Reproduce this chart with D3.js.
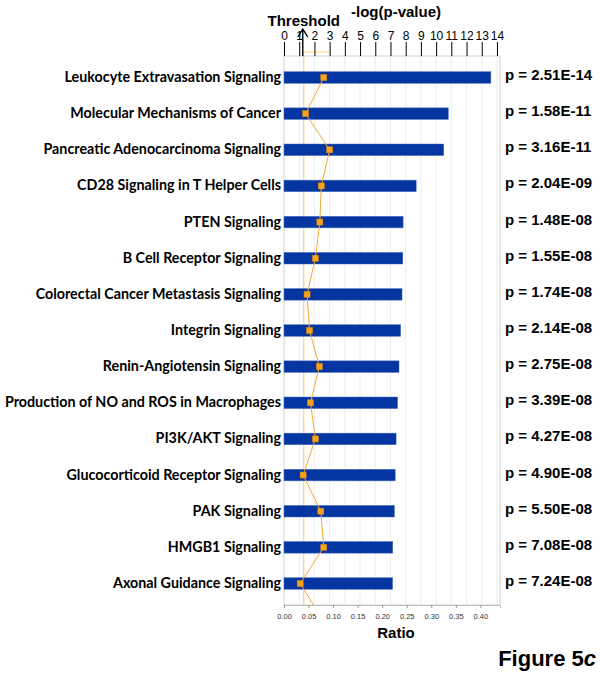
<!DOCTYPE html>
<html>
<head>
<meta charset="utf-8">
<script src="https://cdn.jsdelivr.net/npm/d3@7"></script>
<style>
  html, body { margin: 0; padding: 0; background: #fff; }
  svg { display: block; }
</style>
</head>
<body>
<svg id="chart" width="601" height="675"></svg>
<script>
const categories = [
  "Leukocyte Extravasation Signaling",
  "Molecular Mechanisms of Cancer",
  "Pancreatic Adenocarcinoma Signaling",
  "CD28 Signaling in T Helper Cells",
  "PTEN Signaling",
  "B Cell Receptor Signaling",
  "Colorectal Cancer Metastasis Signaling",
  "Integrin Signaling",
  "Renin-Angiotensin Signaling",
  "Production of NO and ROS in Macrophages",
  "PI3K/AKT Signaling",
  "Glucocorticoid Receptor Signaling",
  "PAK Signaling",
  "HMGB1 Signaling",
  "Axonal Guidance Signaling"
];
const pValueLabels = [
  "2.51E-14", "1.58E-11", "3.16E-11", "2.04E-09", "1.48E-08",
  "1.55E-08", "1.74E-08", "2.14E-08", "2.75E-08", "3.39E-08",
  "4.27E-08", "4.90E-08", "5.50E-08", "7.08E-08", "7.24E-08"
];
const negLogP = [13.60, 10.80, 10.50, 8.69, 7.83, 7.81, 7.76, 7.67, 7.56, 7.47, 7.37, 7.31, 7.26, 7.15, 7.14];
const ratios = [0.081, 0.044, 0.093, 0.076, 0.073, 0.064, 0.047, 0.052, 0.072, 0.054, 0.064, 0.039, 0.075, 0.081, 0.033];
const ratioTail = 0.060;
const topTicks = [0, 1, 2, 3, 4, 5, 6, 7, 8, 9, 10, 11, 12, 13, 14];
const ratioTicks = [0.00, 0.05, 0.10, 0.15, 0.20, 0.25, 0.30, 0.35, 0.40];
const threshold = 1.3;

const svg = d3.select("#chart");
const L = 284, R = 500, T = 56, B = 605;

const x = d3.scaleLinear().domain([0, 14.2]).range([L, R]);
const xr = d3.scaleLinear().domain([0, 0.44]).range([L, R]);
const y = d3.scaleBand().domain(categories).range([T, B]).paddingInner(0.68).paddingOuter(0.435);
const bh = y.bandwidth();
const cy = d => y(d) + bh / 2;

// gridlines
svg.append("g").selectAll("line").data(topTicks.filter(t => t > 0)).join("line")
  .attr("x1", d => x(d)).attr("x2", d => x(d)).attr("y1", T).attr("y2", B)
  .attr("stroke", "#ededed").attr("stroke-width", 1);

// frame
svg.append("rect").attr("x", L).attr("y", T).attr("width", R - L).attr("height", B - T)
  .attr("fill", "none").attr("stroke", "#d2d2d2").attr("stroke-width", 1);

// threshold line
svg.append("line").attr("x1", x(threshold)).attr("x2", x(threshold)).attr("y1", T).attr("y2", B)
  .attr("stroke", "#f5c878").attr("stroke-width", 1);

// small orange dotted mark above the plot
svg.append("line").attr("x1", x(threshold)).attr("x2", x(3)).attr("y1", T - 4).attr("y2", T - 4)
  .attr("stroke", "#f2a531").attr("stroke-width", 1).attr("stroke-dasharray", "1,1");

// bars
svg.append("g").selectAll("rect").data(categories).join("rect")
  .attr("x", x(0)).attr("y", d => y(d))
  .attr("width", (d, i) => x(negLogP[i]) - x(0)).attr("height", bh)
  .attr("fill", "#0535a0").attr("stroke", "#4c6fc0").attr("stroke-width", 0.5);

// ratio line
const pts = categories.map((c, i) => [xr(ratios[i]), cy(c)]);
pts.push([xr(ratioTail), B]);
svg.append("path").attr("d", d3.line()(pts))
  .attr("fill", "none").attr("stroke", "#f4a93a").attr("stroke-width", 1);
svg.append("g").selectAll("rect").data(categories).join("rect")
  .attr("x", (d, i) => xr(ratios[i]) - 3).attr("y", d => cy(d) - 3)
  .attr("width", 6).attr("height", 6)
  .attr("fill", "#f7a21b").attr("stroke", "#e08a10").attr("stroke-width", 0.5);

// top axis
const topAxis = svg.append("g").attr("transform", `translate(0,${T})`)
  .call(d3.axisTop(x).tickValues(topTicks).tickSize(14).tickPadding(2).tickFormat(d3.format("d")));
topAxis.select(".domain").remove();
topAxis.selectAll("line").attr("stroke", "#000").attr("stroke-width", 1);
topAxis.selectAll("text").attr("font-family", "Liberation Sans, Arial, sans-serif")
  .attr("font-size", 12).attr("fill", "#000");

// bottom axis
const botAxis = svg.append("g").attr("transform", `translate(0,${B})`)
  .call(d3.axisBottom(xr).tickValues(ratioTicks).tickSize(3).tickPadding(6).tickFormat(d3.format(".2f")));
botAxis.select(".domain").attr("stroke", "#bbb");
botAxis.selectAll("line").attr("stroke", "#999");
botAxis.selectAll("text").attr("font-family", "Liberation Sans, Arial, sans-serif")
  .attr("font-size", 7.5).attr("fill", "#333");

// category labels
svg.append("g").selectAll("text").data(categories).join("text")
  .attr("x", L - 3).attr("y", d => cy(d) - 1)
  .attr("text-anchor", "end").attr("dominant-baseline", "central")
  .attr("font-family", "Lato, sans-serif").attr("font-weight", "bold").attr("font-size", 14.3)
  .attr("fill", "#000").text(d => d);

// p value labels
svg.append("g").selectAll("text").data(categories).join("text")
  .attr("x", 505).attr("y", d => cy(d) - 3)
  .attr("dominant-baseline", "central")
  .attr("font-family", "Liberation Sans, Arial, sans-serif").attr("font-weight", "bold").attr("font-size", 15)
  .attr("fill", "#000").text((d, i) => "p = " + pValueLabels[i]);

// titles
svg.append("text").attr("x", 396).attr("y", 17).attr("text-anchor", "middle")
  .attr("font-family", "Liberation Sans, Arial, sans-serif").attr("font-weight", "bold").attr("font-size", 15)
  .text("-log(p-value)");
svg.append("text").attr("x", x(threshold)).attr("y", 26).attr("text-anchor", "middle")
  .attr("font-family", "Liberation Sans, Arial, sans-serif").attr("font-weight", "bold").attr("font-size", 15)
  .text("Threshold");
// arrow
const ax = x(threshold) - 1;
svg.append("path").attr("d", `M${ax},${T} L${ax},29 M${ax - 5},37 L${ax},29 L${ax + 5},37`)
  .attr("fill", "none").attr("stroke", "#000").attr("stroke-width", 1.4);

svg.append("text").attr("x", 396).attr("y", 638).attr("text-anchor", "middle")
  .attr("font-family", "Liberation Sans, Arial, sans-serif").attr("font-weight", "bold").attr("font-size", 15)
  .text("Ratio");

const fig = svg.append("text").attr("x", 596).attr("y", 666).attr("text-anchor", "end")
  .attr("font-family", "Liberation Sans, Arial, sans-serif").attr("font-weight", "bold").attr("font-size", 22);
fig.append("tspan").text("Figure 5");
fig.append("tspan").attr("font-style", "italic").text("c");
</script>
</body>
</html>
